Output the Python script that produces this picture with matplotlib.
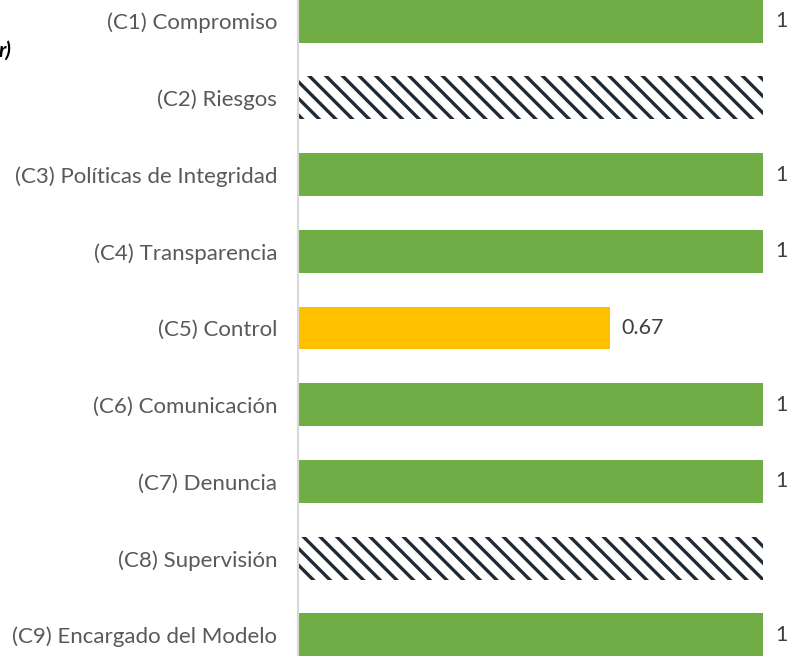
import matplotlib
matplotlib.use("Agg")
import matplotlib.pyplot as plt

categories = ["(C1) Compromiso", "(C2) Riesgos", "(C3) Políticas de Integridad",
              "(C4) Transparencia", "(C5) Control", "(C6) Comunicación",
              "(C7) Denuncia", "(C8) Supervisión", "(C9) Encargado del Modelo"]
values = [1, 1, 1, 1, 0.67, 1, 1, 1, 1]
labels = ["1", "", "1", "1", "0.67", "1", "1", "", "1"]
kinds = ["ok", "na", "ok", "ok", "partial", "ok", "ok", "na", "ok"]

colors = {"ok": "#70AD47", "partial": "#FFC000"}

plt.rcParams['font.family'] = ['Lato', 'DejaVu Sans']
plt.rcParams['hatch.linewidth'] = 2.4
plt.rcParams['hatch.color'] = '#1F2A36'

fig = plt.figure(figsize=(7.96, 6.56), dpi=100)
ax = fig.add_axes([298/796, 0, (763-298)/796, 1])

ypos = list(range(len(categories)))
for y, v, k, lab in zip(ypos, values, kinds, labels):
    if k == "na":
        ax.barh(y, v, height=0.56, color="white", edgecolor="#1F2A36",
                hatch="\\\\", linewidth=0)
    else:
        ax.barh(y, v, height=0.56, color=colors[k], linewidth=0)
    if lab:
        ax.annotate(lab, (v, y), xytext=(8.5, 0), textcoords="offset points",
                    ha="left", va="center", fontsize=15.5, color="#404040",
                    annotation_clip=False)

ax.set_xlim(0, 1.0)
ax.set_ylim(8.274, -0.274)
ax.set_yticks(ypos)
ax.set_yticklabels(categories, fontsize=16, color="#595959")
ax.tick_params(axis='y', length=0, pad=15)
ax.set_xticks([])
for s in ["top", "right", "bottom"]:
    ax.spines[s].set_visible(False)
ax.spines["left"].set_color("#D9D9D9")
ax.spines["left"].set_linewidth(1.5)

fig.text(11/796, 1 - 51/656, "r)", ha="right", va="center", fontsize=15,
         fontweight="bold", fontstyle="italic", color="black")

fig.savefig("out.png", dpi=100)
